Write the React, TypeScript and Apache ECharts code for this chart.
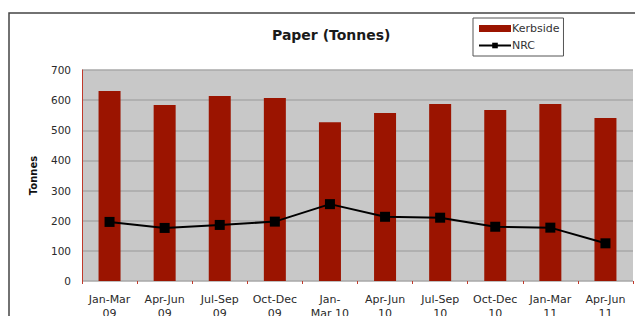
import React, { useEffect, useRef } from "react";
import * as echarts from "echarts";

const categories = [
  "Jan-Mar\n09", "Apr-Jun\n09", "Jul-Sep\n09", "Oct-Dec\n09", "Jan-\nMar 10",
  "Apr-Jun\n10", "Jul-Sep\n10", "Oct-Dec\n10", "Jan-Mar\n11", "Apr-Jun\n11",
];
const kerbside = [630, 584, 614, 607, 527, 557, 587, 567, 587, 541];
const nrc = [196, 176, 186, 197, 255, 213, 210, 180, 177, 125];
const yTicks = { min: 0, max: 700, interval: 100 };

export default function App() {
  const ref = useRef<HTMLDivElement>(null);
  useEffect(() => {
    if (!ref.current) return;
    const chart = echarts.init(ref.current, undefined, { renderer: "svg" });
    const font = "'DejaVu Sans', Verdana, sans-serif";
    chart.setOption({
      animation: false,
      backgroundColor: "#ffffff",
      textStyle: { fontFamily: font },
      title: {
        text: "Paper (Tonnes)",
        left: 267,
        top: 23,
        textStyle: { fontFamily: font, fontSize: 14, fontWeight: "bold", color: "#1a1a1a" },
      },
      legend: {
        orient: "vertical",
        left: 473,
        top: 18,
        width: 96,
        padding: [5, 4, 5, 5],
        itemGap: 6,
        itemWidth: 32,
        itemHeight: 7,
        borderColor: "#555",
        borderWidth: 1,
        textStyle: { fontFamily: font, fontSize: 11, color: "#333", padding: [0, 0, 0, -4] },
        data: [
          { name: "Kerbside", icon: "rect" },
          { name: "NRC" },
        ],
      },
      grid: { left: 82, right: 2, top: 70, bottom: 35, containLabel: false,
        outerBoundsMode: "none",
        show: true, backgroundColor: "#c8c8c8", borderWidth: 0 },
      xAxis: {
        type: "category",
        data: categories,
        axisLine: { show: false },
        axisTick: { show: true, alignWithLabel: false, length: 3, inside: false,
          lineStyle: { color: "#c0392b", width: 1 } },
        axisLabel: { fontFamily: font, fontSize: 11, color: "#2a2a2a", lineHeight: 14, margin: 11, interval: 0 },
      },
      yAxis: {
        type: "value",
        min: yTicks.min,
        max: yTicks.max,
        interval: yTicks.interval,
        name: "Tonnes",
        nameLocation: "middle",
        nameGap: 44,
        nameRotate: 90,
        nameTextStyle: { fontFamily: font, fontSize: 10, fontWeight: "bold", color: "#111" },
        axisLine: { show: true, lineStyle: { color: "#c0392b", width: 1 } },
        axisTick: { show: false },
        axisLabel: { fontFamily: font, fontSize: 10.5, color: "#2a2a2a", margin: 11 },
        splitLine: { show: true, lineStyle: { color: "#a8a8a8", width: 1.5 } },
      },
      series: [
        {
          name: "Kerbside",
          type: "bar",
          data: kerbside,
          barWidth: 22,
          itemStyle: { color: "#9b1400" },
        },
        {
          name: "NRC",
          type: "line",
          data: nrc,
          symbol: "rect",
          symbolSize: 10,
          lineStyle: { color: "#000", width: 2 },
          itemStyle: { color: "#000" },
        },
      ],
      graphic: [
        {
          type: "rect",
          shape: { x: 9, y: 13, width: 700, height: 400 },
          style: { fill: "none", stroke: "#444", lineWidth: 1.5 },
          silent: true,
        },
      ],
    });
    return () => chart.dispose();
  }, []);
  return (
    <div
      ref={ref}
      style={{ position: "absolute", left: 0, top: 0, width: 635, height: 316 }}
    />
  );
}
